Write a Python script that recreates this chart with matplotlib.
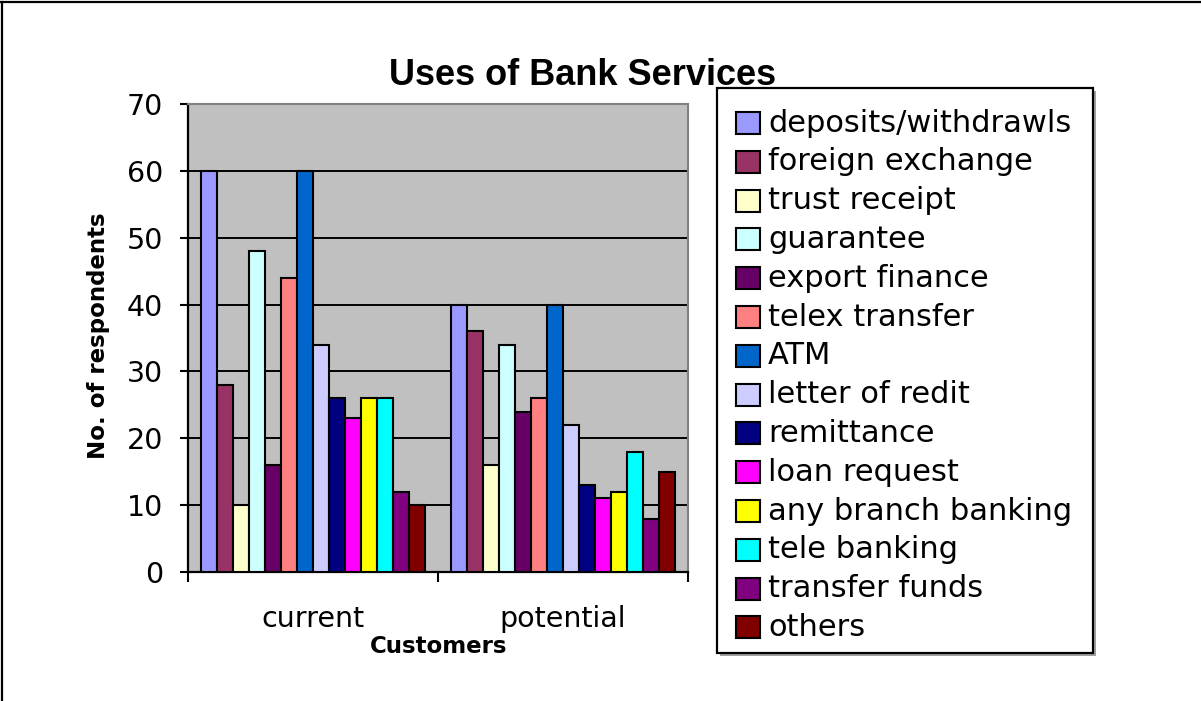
import matplotlib
matplotlib.use("Agg")
import matplotlib.pyplot as plt
import numpy as np
from matplotlib.patches import Rectangle
from matplotlib.lines import Line2D

# ---- data ----
customers = ["current", "potential"]
services = [
    "deposits/withdrawls", "foreign exchange", "trust receipt", "guarantee",
    "export finance", "telex transfer", "ATM", "letter of redit", "remittance",
    "loan request", "any branch banking", "tele banking", "transfer funds", "others",
]
current = [60, 28, 10, 48, 16, 44, 60, 34, 26, 23, 26, 26, 12, 10]
potential = [40, 36, 16, 34, 24, 26, 40, 22, 13, 11, 12, 18, 8, 15]
colors = [
    "#9999FF", "#993366", "#FFFFCC", "#CCFFFF", "#660066", "#FF8080", "#0066CC",
    "#CCCCFF", "#000080", "#FF00FF", "#FFFF00", "#00FFFF", "#800080", "#800000",
]
y_ticks = [0, 10, 20, 30, 40, 50, 60, 70]

W, H = 1201, 701
fig = plt.figure(figsize=(W / 100, H / 100), dpi=100)
fig.patch.set_facecolor("white")


def fx(x):
    return x / W


def fy(y):
    return 1 - y / H


# plot area in pixel coordinates
L, R, T, B = 188, 688, 104, 572
ax = fig.add_axes([fx(L), fy(B), fx(R) - fx(L), fy(T) - fy(B)])
ax.set_facecolor("#C0C0C0")

values = np.array([current, potential])  # shape (2, 14)
n = len(services)
bw = 0.064
x = np.arange(len(customers))
for i in range(n):
    ax.bar(x + (i - (n - 1) / 2) * bw, values[:, i], width=bw,
           color=colors[i], edgecolor="black", linewidth=1.5, zorder=3)

ax.set_xlim(-0.5, 1.5)
ax.set_ylim(0, 70)
ax.set_yticks(y_ticks)
ax.yaxis.grid(True, color="black", linewidth=1.4, zorder=1)
ax.set_axisbelow(True)

ax.set_xticks(x)
ax.set_xticklabels(customers, fontsize=20.5, family="DejaVu Sans")
ax.set_xticks([-0.5, 0.5, 1.5], minor=True)
ax.tick_params(axis="x", which="major", length=0, pad=24)
ax.tick_params(axis="x", which="minor", length=7, width=1.5, direction="out")
ax.tick_params(axis="y", length=6, width=1.5, direction="out", pad=12,
               labelsize=20.5)
for lab in ax.get_yticklabels():
    lab.set_family("DejaVu Sans")

for s in ("left", "bottom"):
    ax.spines[s].set_color("black")
    ax.spines[s].set_linewidth(1.6)
for s in ("top", "right"):
    ax.spines[s].set_color("#808080")
    ax.spines[s].set_linewidth(1.5)

# titles
fig.text(fx(583), fy(85), "Uses of Bank Services", ha="center", va="baseline",
         fontsize=26, fontweight="bold", family="Liberation Sans")
fig.text(fx(439), fy(653), "Customers", ha="center", va="baseline",
         fontsize=16.5, fontweight="bold", family="DejaVu Sans")
fig.text(fx(98), fy(336), "No. of respondents", ha="center", va="center",
         rotation=90, fontsize=16.5, fontweight="bold", family="DejaVu Sans")

# legend box
lx0, lx1, ly0, ly1 = 717, 1093, 88, 653
fig.add_artist(Rectangle((fx(lx0 + 3), fy(ly1 + 3)), fx(lx1) - fx(lx0),
                         fy(ly0) - fy(ly1), transform=fig.transFigure,
                         facecolor="#A0A0A0", edgecolor="none", zorder=5))
fig.add_artist(Rectangle((fx(lx0), fy(ly1)), fx(lx1) - fx(lx0),
                         fy(ly0) - fy(ly1), transform=fig.transFigure,
                         facecolor="white", edgecolor="black", linewidth=1.6,
                         zorder=6))
row0, row_step = 123, 38.8
for i, (name, c) in enumerate(zip(services, colors)):
    yc = row0 + i * row_step
    fig.add_artist(Rectangle((fx(736), fy(yc + 11)), fx(760) - fx(736),
                             fy(yc - 11) - fy(yc + 11),
                             transform=fig.transFigure, facecolor=c,
                             edgecolor="black", linewidth=1.5, zorder=7))
    fig.text(fx(768), fy(yc), name, ha="left", va="center", fontsize=22,
             family="DejaVu Sans", zorder=7)

# outer frame lines (top and left)
fig.add_artist(Line2D([0, fx(1200)], [fy(2), fy(2)], transform=fig.transFigure,
                      color="black", linewidth=1.6))
fig.add_artist(Line2D([fx(2), fx(2)], [fy(2), fy(701)], transform=fig.transFigure,
                      color="black", linewidth=1.6))

fig.savefig("out.png", dpi=100, facecolor="white")
